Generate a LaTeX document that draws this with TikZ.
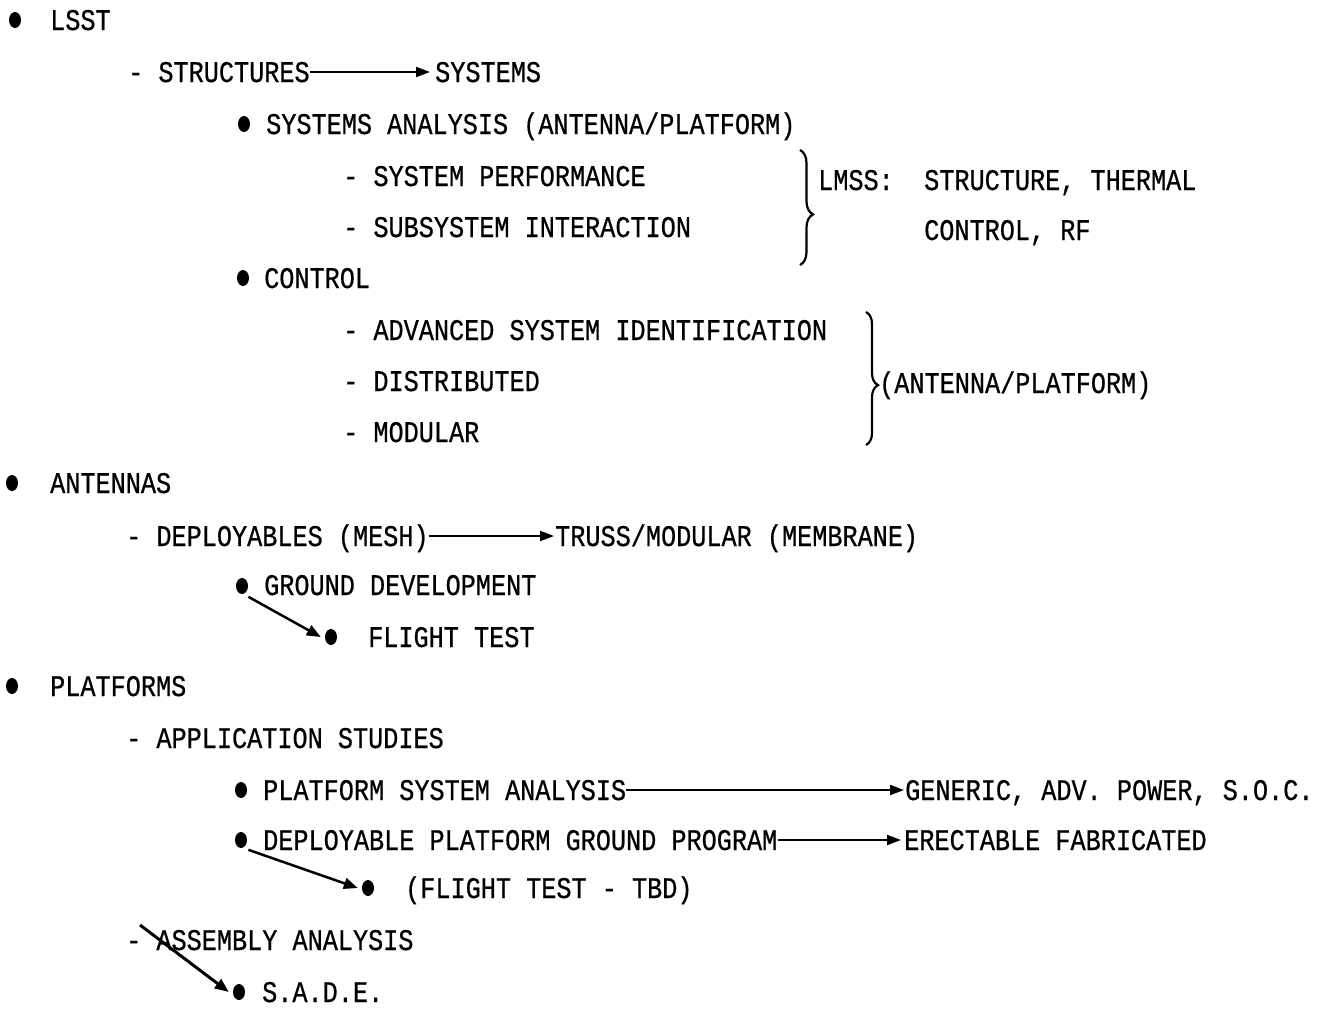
\documentclass[tikz,border=0pt]{standalone}
\usepackage{fontspec}
\setmainfont[FakeStretch=0.84,FakeBold=0.6]{Liberation Mono}
\usetikzlibrary{arrows.meta,shapes.geometric,decorations.pathreplacing}
\tikzset{
  txt/.style={anchor=base west,inner sep=0pt,font=\fontsize{30}{36}\selectfont},
  dot/.style={ellipse,fill=black,inner sep=0pt,minimum width=12pt,minimum height=16pt},
  arr/.style={line width=2pt,-{Triangle[length=14pt,width=10pt]}},
  darr/.style={line width=2.5pt,-{Triangle[length=14pt,width=11pt]}},
  brc/.style={line width=2.2pt,decorate},
}
\begin{document}
\begin{tikzpicture}[x=1pt,y=-1pt]
\useasboundingbox (0,0) rectangle (1332,1013);
% LSST
\node[dot] (b1) at (15,20) {};
\node[txt] (lsst) at (50,30) {LSST};
\node[txt] (struct) at (128,82) {- STRUCTURES};
\node[txt] (systems) at (435,82) {SYSTEMS};
\draw[arr,shorten >=5pt] (struct.east |- 0,72) -- (systems.west |- 0,72);
\node[dot] (b2) at (244,124) {};
\node[txt] (sysan) at (266,134) {SYSTEMS ANALYSIS (ANTENNA/PLATFORM)};
\node[txt] (perf) at (343,186) {- SYSTEM PERFORMANCE};
\node[txt] (inter) at (343,237) {- SUBSYSTEM INTERACTION};
\coordinate (br1a) at (800,150);
\coordinate (br1b) at (800,265);
\draw[brc,decoration={brace,amplitude=13pt,aspect=0.56}] (br1a) -- (br1b);
\node[txt] (lmss) at (818,190) {LMSS:};
\node[txt] (therm) at (924,190) {STRUCTURE, THERMAL};
\node[txt] (ctrlrf) at (924,240) {CONTROL, RF};
\node[dot] (b3) at (243,278) {};
\node[txt] (control) at (264,288) {CONTROL};
\node[txt] (adv) at (343,340) {- ADVANCED SYSTEM IDENTIFICATION};
\node[txt] (dist) at (343,391) {- DISTRIBUTED};
\node[txt] (modu) at (343,442) {- MODULAR};
\coordinate (br2a) at (866,312);
\coordinate (br2b) at (866,445);
\draw[brc,decoration={brace,amplitude=12pt,aspect=0.55}] (br2a) -- (br2b);
\node[txt] (antplat) at (879,393) {(ANTENNA/PLATFORM)};
% ANTENNAS
\node[dot] (b4) at (12,483) {};
\node[txt] (ant) at (50,493) {ANTENNAS};
\node[txt] (depl) at (126,546) {- DEPLOYABLES (MESH)};
\node[txt] (truss) at (555,546) {TRUSS/MODULAR (MEMBRANE)};
\draw[arr,shorten >=1pt] (depl.east |- 0,536) -- (truss.west |- 0,536);
\node[dot] (b5) at (242,586) {};
\node[txt] (ground) at (264,595) {GROUND DEVELOPMENT};
\node[dot] (b6) at (331,637) {};
\node[txt] (flight) at (368,647) {FLIGHT TEST};
\draw[darr] ([xshift=2pt,yshift=-5pt]b5.south east) -- ([xshift=-4pt]b6.west);
% PLATFORMS
\node[dot] (b7) at (12,686) {};
\node[txt] (plat) at (50,696) {PLATFORMS};
\node[txt] (appl) at (126,748) {- APPLICATION STUDIES};
\node[dot] (b8) at (241,790) {};
\node[txt] (psa) at (263,800) {PLATFORM SYSTEM ANALYSIS};
\node[txt] (gen) at (905,800) {GENERIC, ADV. POWER, S.O.C.};
\draw[arr,shorten >=1pt] (psa.east |- 0,790) -- (gen.west |- 0,790);
\node[dot] (b9) at (241,840) {};
\node[txt] (dpgp) at (263,850) {DEPLOYABLE PLATFORM GROUND PROGRAM};
\node[txt] (erect) at (904,850) {ERECTABLE FABRICATED};
\draw[arr,shorten >=3pt] (dpgp.east |- 0,840) -- (erect.west |- 0,840);
\node[dot] (b10) at (368,888) {};
\node[txt] (tbd) at (405,898) {(FLIGHT TEST - TBD)};
\draw[darr] ([xshift=3pt,yshift=-4pt]b9.south east) -- ([xshift=-4pt]b10.west);
\node[txt] (asm) at (126,950) {- ASSEMBLY ANALYSIS};
\node[dot] (b11) at (239,992) {};
\node[txt] (sade) at (262,1002) {S.A.D.E.};
\draw[darr,line width=3pt] ([xshift=14pt,yshift=25pt]asm.base west) -- ([xshift=-4pt]b11.west);
\end{tikzpicture}
\end{document}
